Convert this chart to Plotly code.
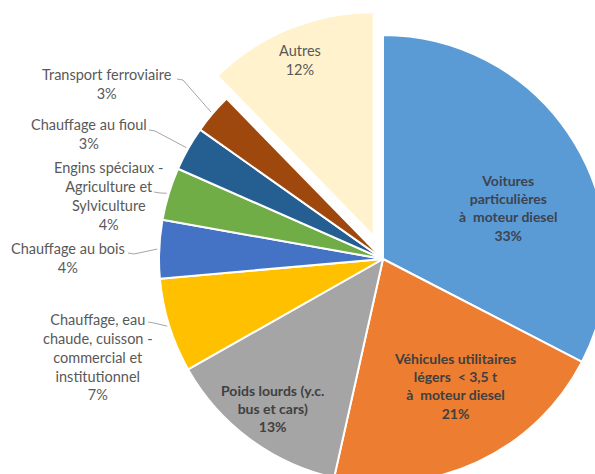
import math
import plotly.graph_objects as go

# slice data, clockwise from 12 o'clock
labels = [
    "Voitures particulières à moteur diesel",
    "Véhicules utilitaires légers < 3,5 t à moteur diesel",
    "Poids lourds (y.c. bus et cars)",
    "Chauffage, eau chaude, cuisson - commercial et institutionnel",
    "Chauffage au bois",
    "Engins spéciaux - Agriculture et Sylviculture",
    "Chauffage au fioul",
    "Transport ferroviaire",
    "Autres",
]
values = [32.6, 20.9, 13.3, 6.8, 4.2, 3.8, 3.2, 2.9, 12.3]
shown_pct = ["33%", "21%", "13%", "7%", "4%", "4%", "3%", "3%", "12%"]
label_text = [
    "Voitures<br>particulières<br>à\u00a0 moteur diesel",
    "Véhicules utilitaires<br>légers\u00a0 &lt; 3,5 t<br>à\u00a0 moteur diesel",
    "Poids lourds (y.c.<br>bus et cars)",
    "Chauffage, eau<br>chaude, cuisson -<br>commercial et<br>institutionnel",
    "Chauffage au bois",
    "Engins spéciaux -<br>Agriculture et<br>Sylviculture",
    "Chauffage au fioul",
    "Transport ferroviaire",
    "Autres",
]
colors = ["#5B9BD5", "#ED7D31", "#A5A5A5", "#FFC000", "#4472C4",
          "#70AD47", "#255E91", "#9E480E", "#FFF2CC"]
pulls = [0, 0, 0, 0, 0, 0, 0, 0, 0.11]

# layout (pixels in the figure)
W, H = 640, 510
CX, CY, R = 383, 259, 224
half = R * (1 + max(pulls))
FONT = "Lato, 'Open Sans', sans-serif"

# label centre positions (px) and style; leader start (px) for outside ones
label_pos = [(508, 208), (455, 386), (272, 408), (98, 357), (68, 258),
             (108, 196), (89, 134), (107, 84), (300, 60)]
label_bold = [True, True, True, False, False, False, False, False, False]
label_size = [14, 14, 14, 14.5, 14.5, 14.5, 14.5, 14.5, 14.5]
label_color = ["#3b4450", "#404040", "#404040", "#595959", "#595959",
               "#595959", "#595959", "#595959", "#595959"]
leader_start = [None, None, None, (148, 322), (128, 253), (154, 192),
                (149, 130), (177, 79), None]


def px(x):
    return x / W


def py(y):
    return 1 - y / H


fig = go.Figure(go.Pie(
    labels=labels, values=values, sort=False, direction="clockwise", rotation=0,
    pull=pulls, marker=dict(colors=colors, line=dict(color="white", width=2)),
    textinfo="none", hoverinfo="label+percent", showlegend=False,
    domain=dict(x=[px(CX - half), px(CX + half)], y=[py(CY + half), py(CY - half)]),
))

total = sum(values)
cum = 0
for i, v in enumerate(values):
    mid = (cum + v / 2) / total * 360
    cum += v
    txt = label_text[i] + "<br>" + shown_pct[i]
    if label_bold[i]:
        txt = "<b>" + txt + "</b>"
    lx, ly = label_pos[i]
    fig.add_annotation(
        text=txt, x=px(lx), y=py(ly), xref="paper", yref="paper",
        xanchor="center", yanchor="middle", align="center", showarrow=False,
        font=dict(family=FONT, size=label_size[i], color=label_color[i]),
    )
    if leader_start[i] is not None:
        sx, sy = leader_start[i]
        tx = CX + (R + 2) * math.sin(math.radians(mid))
        ty = CY - (R + 2) * math.cos(math.radians(mid))
        path = (f"M {px(sx)},{py(sy)} L {px(sx + 6)},{py(sy + 1)} "
                f"L {px(tx)},{py(ty)}")
        fig.add_shape(type="path", path=path, xref="paper", yref="paper",
                      line=dict(color="#a6a6a6", width=1))

fig.update_layout(
    width=W, height=H, margin=dict(l=0, r=0, t=0, b=0),
    paper_bgcolor="white", plot_bgcolor="white",
    font=dict(family=FONT, size=14, color="#595959"),
)

fig.write_html(
    "out.html",
    config={"displayModeBar": False},
    post_script="document.documentElement.style.overflow='hidden';"
                "document.body.style.overflow='hidden';"
                "document.body.style.margin='0';",
)
